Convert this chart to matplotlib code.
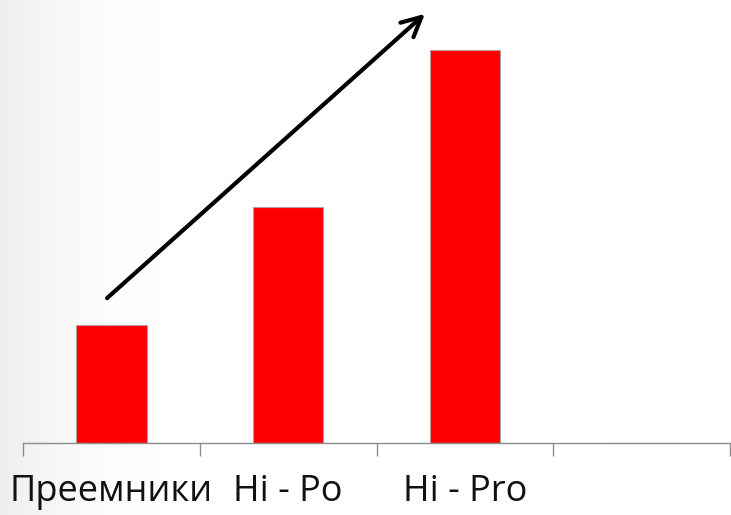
import numpy as np
import matplotlib
matplotlib.use("Agg")
import matplotlib.pyplot as plt
from matplotlib.patches import FancyArrowPatch

categories = ["Преемники", "Hi - Po", "Hi - Pro", ""]
values = [3, 6, 10, 0]

W, H, DPI = 731, 515, 100
fig = plt.figure(figsize=(W / DPI, H / DPI), dpi=DPI)

# soft grey shading along the left edge of the slide
bg = fig.add_axes([0, 0, 1, 1], zorder=-10)
t = np.clip(np.linspace(0, 1, W) / 0.22, 0, 1)
shade = 0.935 + 0.065 * np.sin(t * np.pi / 2)
img = np.tile(shade, (H, 1))
bg.imshow(np.dstack([img, img, img]), aspect="auto", extent=[0, 1, 0, 1])
bg.set_axis_off()

base_px = 443
left_px, right_px = 23, 730
ax = fig.add_axes([left_px / W, (H - base_px) / H, (right_px - left_px) / W, base_px / H])
ax.patch.set_alpha(0)

x = np.arange(len(categories))
ax.bar(x, values, width=0.4, color="#ff0000", edgecolor="#c09898", linewidth=0.8)

ax.set_xlim(-0.5, len(categories) - 0.5)
ax.set_ylim(0, base_px / 39.3)

for s in ["top", "right", "left"]:
    ax.spines[s].set_visible(False)
ax.spines["bottom"].set_color("#8c8c8c")
ax.spines["bottom"].set_linewidth(1.0)
ax.set_yticks([])

ax.set_xticks(np.arange(len(categories) + 1) - 0.5, minor=False)
ax.set_xticklabels([])
ax.tick_params(axis="x", which="major", length=9.5, width=1.0, color="#8c8c8c", direction="out")
ax.set_xticks(x, minor=True)
ax.set_xticklabels(categories, minor=True, fontsize=26, family="Open Sans", color="#111111")
ax.tick_params(axis="x", which="minor", length=0, pad=22)

# trend arrow
arrow = FancyArrowPatch((105 / W, 1 - 300 / H), (427 / W, 1 - 12 / H),
                        transform=fig.transFigure, arrowstyle="->,head_length=14,head_width=7",
                        lw=3.0, color="black", mutation_scale=1, capstyle="round")
fig.add_artist(arrow)

fig.savefig("out.png", dpi=DPI)
